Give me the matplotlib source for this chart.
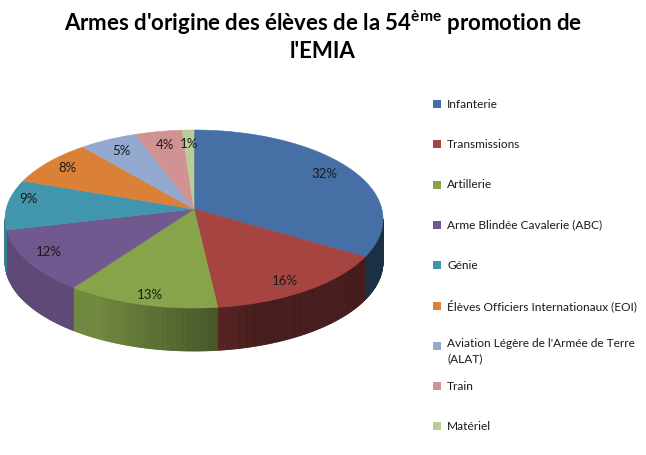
import numpy as np
import matplotlib.pyplot as plt
from matplotlib.collections import PolyCollection
from matplotlib.patches import Polygon
from matplotlib.colors import to_rgb

plt.rcParams['font.family'] = ['Lato', 'DejaVu Sans']
plt.rcParams['mathtext.fontset'] = 'custom'
plt.rcParams['mathtext.rm'] = 'Lato'
plt.rcParams['mathtext.bf'] = 'Lato:bold'

title_line1 = r"Armes d'origine des élèves de la 54$^{\mathbf{ème}}$ promotion de"
title_line2 = "l'EMIA"

categories = ['Infanterie', 'Transmissions', 'Artillerie', 'Arme Blindée Cavalerie (ABC)',
              'Génie', 'Élèves Officiers Internationaux (EOI)',
              "Aviation Légère de l'Armée de Terre\n(ALAT)", 'Train', 'Matériel']
shares = [32, 16, 13, 12, 9, 8, 5, 4, 1]
colors = ['#4670A5', '#A64442', '#87A44B', '#71588F', '#4196AD',
          '#DA8137', '#93A9CF', '#D19392', '#B9CD96']

# pie geometry in pixel space (3D look: tilted ellipse + side band)
CX, CY = 194, 219
RX, RY = 189, 89
APEX_Y = 209
DEPTH = 43
LABEL_R = 0.82


def rim(t):
    r = np.radians(t)
    return CX + RX * np.cos(r), CY - RY * np.sin(r)


def shade(t):
    u = t % 360
    if u <= 240:
        return 0.83
    if u >= 290:
        return 0.42
    return 0.83 - (u - 240) / 50 * 0.41


fig = plt.figure(figsize=(6.46, 4.55), dpi=100)
ax = fig.add_axes([0, 0, 1, 1])
ax.set_xlim(0, 646)
ax.set_ylim(455, 0)
ax.axis('off')

fracs = np.array(shares) / sum(shares)
cum = np.concatenate([[0], np.cumsum(fracs)])
theta1 = 90 - 360 * cum[:-1]
theta2 = 90 - 360 * cum[1:]

# side band (front half only)
for i in range(len(shares)):
    lo, hi = max(theta2[i], -180), min(theta1[i], 0)
    if hi <= lo:
        continue
    ts = np.linspace(lo, hi, max(int((hi - lo) * 2), 2))
    quads, qcols = [], []
    base = np.array(to_rgb(colors[i]))
    for a, b in zip(ts[:-1], ts[1:]):
        xa, ya = rim(a)
        xb, yb = rim(b)
        quads.append([(xa, ya), (xb, yb), (xb, yb + DEPTH), (xa, ya + DEPTH)])
        qcols.append(base * shade((a + b) / 2))
    ax.add_collection(PolyCollection(quads, facecolors=qcols, edgecolors=qcols, linewidths=0.6))

# top faces
for i in range(len(shares)):
    ts = np.linspace(theta1[i], theta2[i], max(int(abs(theta1[i] - theta2[i]) * 2), 2))
    pts = [(CX, APEX_Y)] + [rim(t) for t in ts]
    ax.add_patch(Polygon(pts, closed=True, facecolor=colors[i], edgecolor=colors[i], lw=0.4))

# percentage labels
for i, v in enumerate(shares):
    mid = np.radians((theta1[i] + theta2[i]) / 2)
    ry = (RY + 20) if np.sin(mid) < 0 else (RY - 10)
    rx = RX * (1 + 0.08 * max(-np.cos(mid), 0))
    x = CX + LABEL_R * rx * np.cos(mid)
    y = APEX_Y - LABEL_R * ry * np.sin(mid)
    ax.text(x, y, f'{v}%', ha='center', va='center', fontsize=9.5, color='#1a1a1a')

# legend
for i, name in enumerate(categories):
    y = 104 + 40.3 * i
    ax.scatter([437], [y], marker='s', s=30, color=colors[i], linewidths=0)
    if '\n' in name:
        ax.text(447, y - 8, name, ha='left', va='top', fontsize=8.6, color='#1a1a1a', linespacing=1.45)
    else:
        ax.text(447, y, name, ha='left', va='center', fontsize=8.6, color='#1a1a1a')

ax.text(323, 23, title_line1, ha='center', va='center', fontsize=16, fontweight='bold')
ax.text(323, 51, title_line2, ha='center', va='center', fontsize=16, fontweight='bold')

fig.savefig('out.png', dpi=100)
